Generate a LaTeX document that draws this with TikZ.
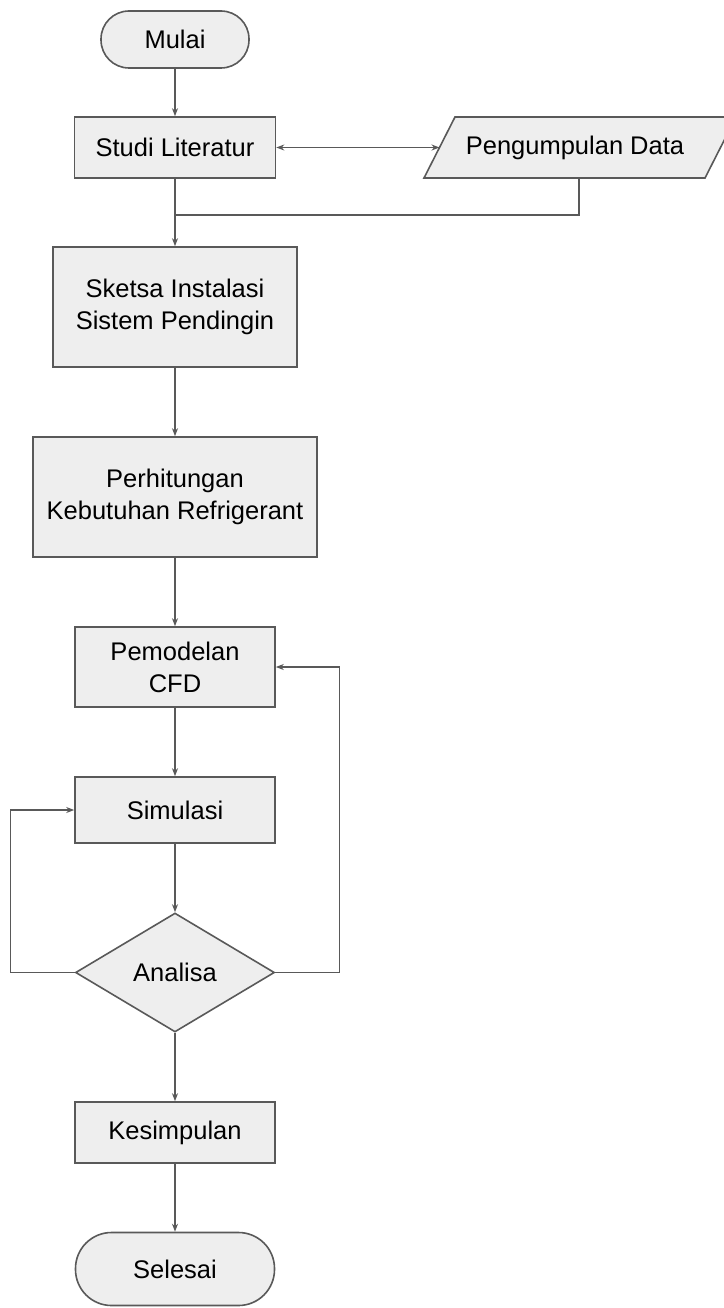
\documentclass[tikz,border=0pt]{standalone}
\usepackage{fontspec}
\setmainfont{Liberation Sans}
\usetikzlibrary{shapes.geometric,arrows.meta}
\definecolor{edgecol}{HTML}{595959}
\definecolor{boxfill}{HTML}{EEEEEE}
\begin{document}
\begin{tikzpicture}[x=1pt,y=-1pt,
  every node/.style={font=\fontsize{25.5}{32}\selectfont, text=black, align=center, inner sep=0pt},
  procbox/.style={draw=edgecol, fill=boxfill, line width=1.6pt, rectangle},
  flow/.style={draw=edgecol, line width=1.4pt, -{Stealth[length=8pt,width=6pt]}},
  plainline/.style={draw=edgecol, line width=1.4pt},
]
\useasboundingbox (0,0) rectangle (723,1308);

% nodes
\node[procbox, rounded corners=28pt, minimum width=148pt, minimum height=57pt] (mu) at (175,39.5) {Mulai};
\node[procbox, minimum width=201pt, minimum height=61pt] (sl) at (175,147.5) {Studi Literatur};
\filldraw[draw=edgecol, fill=boxfill, line width=1.6pt] (424,178) -- (455,117) -- (736,117) -- (705,178) -- cycle;
\node (pd) at (575,147.5) {Pengumpulan Data};
\coordinate (pdl) at (439.5,147.5);
\coordinate (pdb) at (579,178);
\coordinate (jn) at (175,215);
\node[procbox, minimum width=244pt, minimum height=120pt] (sk) at (175,307) {Sketsa Instalasi\\Sistem Pendingin};
\node[procbox, minimum width=284pt, minimum height=120pt] (ph) at (175,497) {Perhitungan\\Kebutuhan Refrigerant};
\node[procbox, minimum width=200pt, minimum height=80pt] (pm) at (175,667) {Pemodelan\\CFD};
\node[procbox, minimum width=200pt, minimum height=66pt] (si) at (175,810) {Simulasi};
\node[procbox, diamond, minimum width=199pt, minimum height=119pt] (an) at (175,972.5) {Analisa};
\node[procbox, minimum width=200pt, minimum height=61pt] (ks) at (175,1132.5) {Kesimpulan};
\node[procbox, rounded corners=36pt, minimum width=199pt, minimum height=73pt] (se) at (175,1269) {Selesai};

% connectors
\draw[flow] (mu.south) -- (sl.north);
\draw[plainline, {Stealth[length=8pt,width=6pt]}-{Stealth[length=8pt,width=6pt]}] (sl.east) -- (pdl);
\draw[plainline] (pdb) |- (jn);
\draw[flow] (sl.south) -- (sk.north);
\draw[flow] (sk.south) -- (ph.north);
\draw[flow] (ph.south) -- (pm.north);
\draw[flow] (pm.south) -- (si.north);
\draw[flow] (si.south) -- (an.north);
\draw[flow] (an.south) -- (ks.north);
\draw[flow] (ks.south) -- (se.north);
\draw[flow] (an.west) -- ++(-64,0) |- (si.west);
\draw[flow] (an.east) -- ++(64,0) |- (pm.east);
\end{tikzpicture}
\end{document}
